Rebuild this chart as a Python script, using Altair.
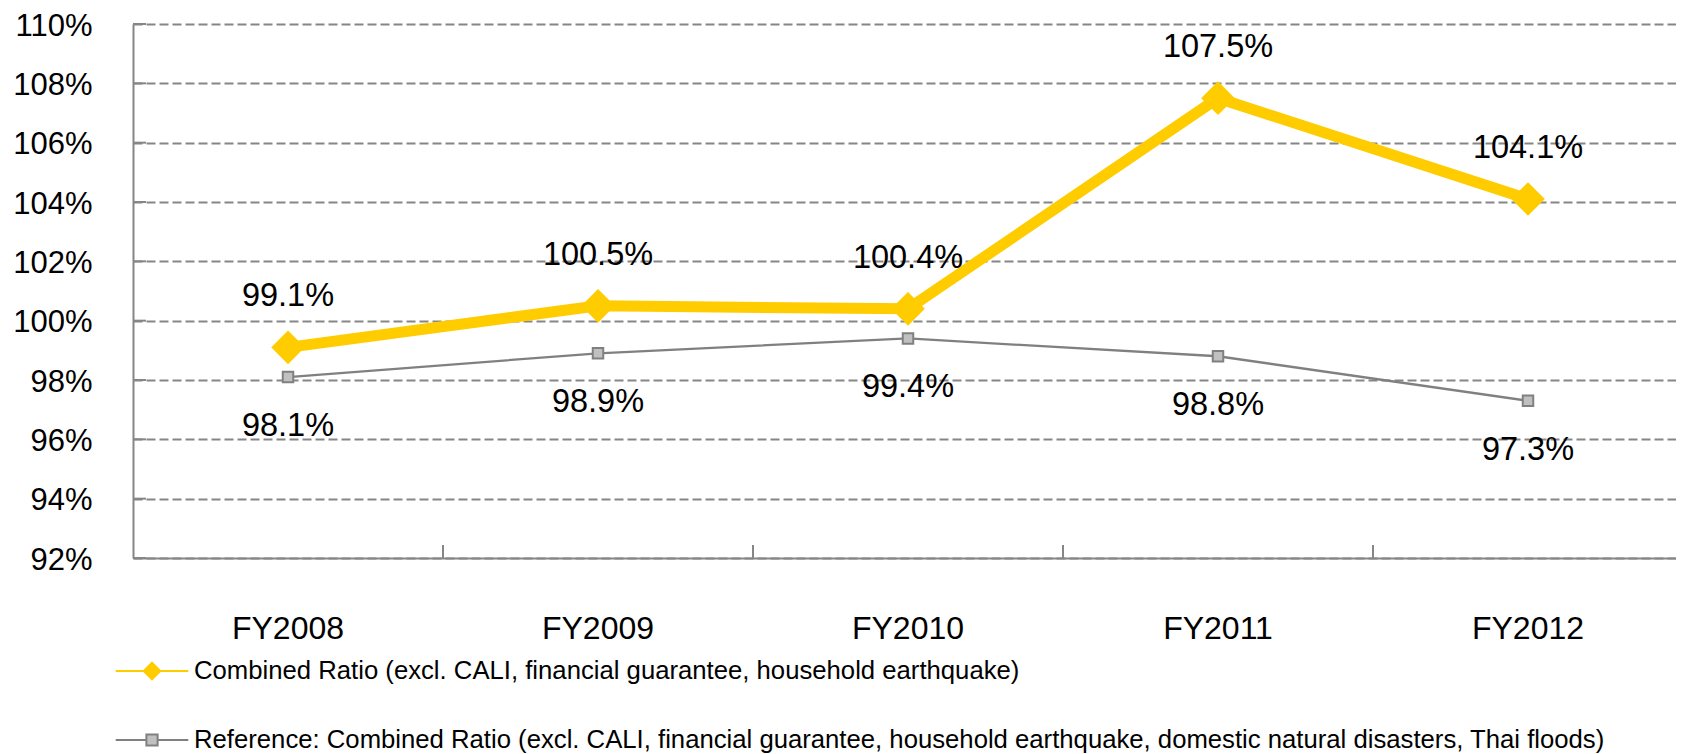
import altair as alt
import pandas as pd

categories = ["FY2008", "FY2009", "FY2010", "FY2011", "FY2012"]
combined_ratio = [99.1, 100.5, 100.4, 107.5, 104.1]
reference_ratio = [98.1, 98.9, 99.4, 98.8, 97.3]
series_names = [
    "Combined Ratio (excl. CALI, financial guarantee, household earthquake)",
    "Reference: Combined Ratio (excl. CALI, financial guarantee, household earthquake, domestic natural disasters, Thai floods)",
]
y_ticks = [92, 94, 96, 98, 100, 102, 104, 106, 108, 110]

GOLD = "#FFCC00"
GRAY = "#808080"
LIGHT = "#C0C0C0"
GRID = "#868686"
FONT = "Liberation Sans"

W, H = 1543, 534

rows = []
for name, vals in zip(series_names, [combined_ratio, reference_ratio]):
    for c, v in zip(categories, vals):
        rows.append({"cat": c, "series": name, "value": v, "label": f"{v:.1f}%"})
df = pd.DataFrame(rows)
cat_df = pd.DataFrame({"cat": categories})
tick_df = pd.DataFrame({"value": y_ticks})

x_axis = alt.Axis(
    title=None, labelAngle=0, labelFont=FONT, labelFontSize=32, labelColor="#000000",
    labelPadding=70, labelBaseline="middle", ticks=False, tickSize=0,
    domainColor=GRID, domainWidth=2, grid=False,
)
x_scale = alt.Scale(type="band", paddingInner=0, paddingOuter=0, range=[0, 1550])
y_axis = alt.Axis(
    title=None, values=y_ticks, labelExpr="datum.value + '%'", labelFont=FONT,
    labelFontSize=31, labelColor="#000000", labelPadding=41, labelOffset=2,
    ticks=False, tickSize=0,
    domainColor=GRID, domainWidth=2, grid=True, gridColor=GRID, gridWidth=2,
    gridDash=[9, 4],
)
y_scale = alt.Scale(domain=[92, 110], nice=False, zero=False)


def xenc(bp=0.5):
    return alt.X("cat:N", sort=categories, scale=x_scale, axis=x_axis, bandPosition=bp)


yenc = alt.Y("value:Q", scale=y_scale, axis=y_axis)

base = alt.Chart(df)
gold_df = base.transform_filter(alt.datum.series == series_names[0])
gray_df = base.transform_filter(alt.datum.series == series_names[1])

gold_path = "M-1.1,0L1.1,0M0,-0.25L0.25,0L0,0.25L-0.25,0Z"
gray_path = "M-1.1,0L-0.17,0M0.17,0L1.1,0M-0.17,-0.17L0.17,-0.17L0.17,0.17L-0.17,0.17Z"


def make_legend(y):
    return alt.Legend(
        title=None, orient="none", legendX=-15, legendY=y, padding=0,
        labelOffset=8, labelFont=FONT, labelFontSize=25.7, labelColor="#000000",
        labelLimit=2000, symbolSize=4356, symbolStrokeWidth=2, symbolOpacity=1,
    )


# legend-only layers (no marks drawn, entries come from the explicit scale domain)
legend_gold = base.transform_filter("false").mark_point(
    filled=True, fill=GOLD, stroke=GOLD, strokeWidth=2, size=4356, opacity=1
).encode(
    x=xenc(), y=yenc,
    shape=alt.Shape("series:N", scale=alt.Scale(domain=[series_names[0]], range=[gold_path]),
                    legend=make_legend(613)),
)
legend_gray = base.transform_filter("false").mark_point(
    filled=True, fill=LIGHT, stroke=GRAY, strokeWidth=2, size=4356, opacity=1
).encode(
    x=xenc(), y=yenc,
    shape=alt.Shape("series:N", scale=alt.Scale(domain=[series_names[1]], range=[gray_path]),
                    legend=make_legend(682)),
)

x_ticks_layer = alt.Chart(cat_df).mark_rule(color=GRID, strokeWidth=2).encode(
    x=xenc(1), y=alt.value(H - 13), y2=alt.value(H)
)
y_ticks_layer = alt.Chart(tick_df).mark_rule(color=GRID, strokeWidth=2).encode(
    y=yenc, x=alt.value(0), x2=alt.value(13)
)

gray_line = gray_df.mark_line(color=GRAY, strokeWidth=2.3).encode(x=xenc(), y=yenc)
gold_line = gold_df.mark_line(color=GOLD, strokeWidth=11, strokeJoin="miter").encode(x=xenc(), y=yenc)

gray_points = gray_df.mark_point(
    shape="square", filled=True, fill=LIGHT, stroke=GRAY, strokeWidth=2, size=110, opacity=1
).encode(x=xenc(), y=yenc)
gold_points = gold_df.mark_point(
    shape="diamond", filled=True, fill=GOLD, stroke=GOLD, strokeWidth=2, size=950, opacity=1
).encode(x=xenc(), y=yenc)

text_gold = gold_df.mark_text(
    font=FONT, fontSize=32.5, color="#000000", dy=-51, baseline="middle"
).encode(x=xenc(), y=yenc, text="label:N")
text_gray = gray_df.mark_text(
    font=FONT, fontSize=32.5, color="#000000", dy=49, baseline="middle"
).encode(x=xenc(), y=yenc, text="label:N")

chart = alt.layer(
    x_ticks_layer, y_ticks_layer, gray_line, gold_line, gray_points, gold_points,
    text_gold, text_gray, legend_gold, legend_gray,
).resolve_scale(shape="independent").resolve_legend(shape="independent").properties(
    width=W, height=H,
    padding={"left": 125, "top": 16, "right": 0, "bottom": 196},
    autosize=alt.AutoSizeParams(type="none"),
    background="#FFFFFF",
).configure_view(stroke=None)

chart.save("out.html", embed_options={"renderer": "svg", "actions": False})
